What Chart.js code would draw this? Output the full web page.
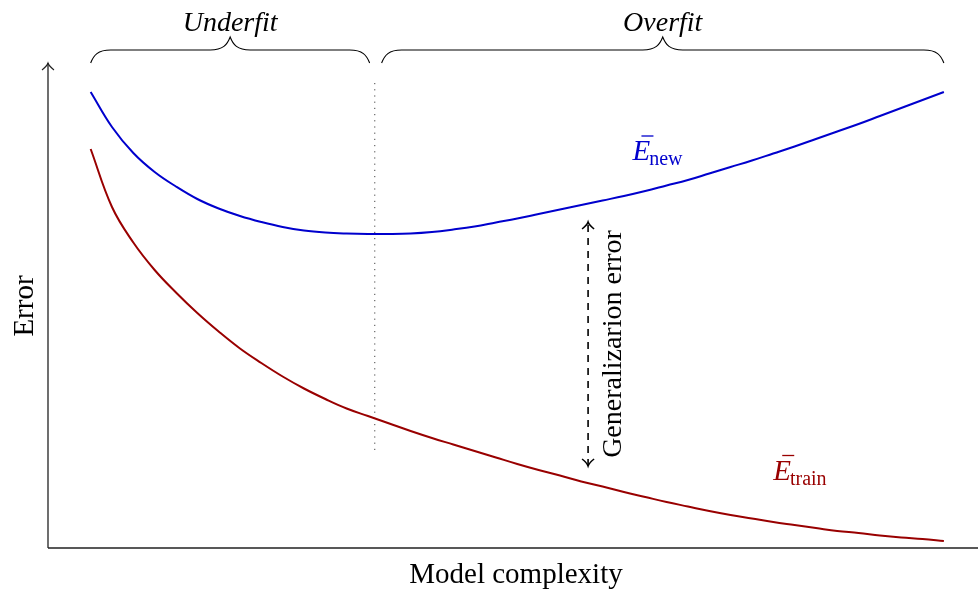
<!DOCTYPE html>
<html>
<head>
<meta charset="utf-8">
<script src="https://cdn.jsdelivr.net/npm/chart.js@4"></script>
<style>
  html, body { margin: 0; padding: 0; background: #fff; }
  #wrap { width: 978px; height: 592px; }
</style>
</head>
<body>
<div id="wrap"><canvas id="chart" width="978" height="592"></canvas></div>
<script>
// model complexity (x) and the two error curves
const complexity = [0, 0.25, 0.5, 0.75, 1, 1.25, 1.5, 1.75, 2, 2.25, 2.5, 2.75, 3, 3.25, 3.5, 3.75, 4, 4.25, 4.5, 4.75,
                    5, 5.25, 5.5, 5.75, 6, 6.25, 6.5, 6.75, 7, 7.25, 7.5, 7.75, 8, 8.25, 8.5, 8.75, 9, 9.25, 9.5, 9.75, 10];
const errNew = [9.12, 8.42, 7.90, 7.52, 7.23, 6.98, 6.79, 6.64, 6.52, 6.42, 6.35, 6.31, 6.29, 6.28, 6.28, 6.29, 6.32, 6.37, 6.43, 6.51,
                6.59, 6.68, 6.77, 6.86, 6.95, 7.04, 7.14, 7.25, 7.36, 7.49, 7.62, 7.75, 7.89, 8.03, 8.18, 8.33, 8.48, 8.64, 8.80, 8.96, 9.12];
const errTrain = [7.98, 6.82, 6.11, 5.56, 5.11, 4.70, 4.33, 3.99, 3.70, 3.43, 3.19, 2.98, 2.79, 2.64, 2.49, 2.34, 2.20, 2.07, 1.94, 1.81,
                  1.68, 1.56, 1.45, 1.33, 1.23, 1.12, 1.02, 0.92, 0.83, 0.74, 0.66, 0.59, 0.52, 0.46, 0.40, 0.34, 0.30, 0.25, 0.21, 0.18, 0.14];

// dotted split between the two regimes
const splitX = 3.33;
const splitY = [1.96, 9.4];

// the generalization gap arrow
const gapX = 5.83;
const gapY = [1.64, 6.52];
const gapLabel = 'Generalizarion error';

// braces along the top
const regionNames = ['Underfit', 'Overfit'];
const regionFrom = [0, 3.41];
const regionTo = [3.27, 10.0];

const xTitle = 'Model complexity';
const yTitle = 'Error';

const BLUE = 'rgb(0,0,205)';
const RED = 'rgb(153,0,0)';
const SERIF = '"Liberation Serif", "DejaVu Serif", serif';

function pts(xs, ys) {
    return xs.map((x, i) => ({ x: x, y: ys[i] }));
}

function drawBrace(ctx, x1, x2, yEnd, h) {
    const mid = (x1 + x2) / 2, a = 20;
    const yFlat = yEnd - h, yTip = yEnd - 2 * h;
    ctx.beginPath();
    ctx.moveTo(x1, yEnd);
    ctx.bezierCurveTo(x1 + 3, yEnd - h * 0.6, x1 + a * 0.35, yFlat, x1 + a, yFlat);
    ctx.lineTo(mid - a, yFlat);
    ctx.bezierCurveTo(mid - a * 0.35, yFlat, mid - 3, yFlat - h * 0.4, mid, yTip);
    ctx.bezierCurveTo(mid + 3, yFlat - h * 0.4, mid + a * 0.35, yFlat, mid + a, yFlat);
    ctx.lineTo(x2 - a, yFlat);
    ctx.bezierCurveTo(x2 - a * 0.35, yFlat, x2 - 3, yEnd - h * 0.6, x2, yEnd);
    ctx.stroke();
}

function chevron(ctx, x, y, dir) {
    // dir = -1 points up, 1 points down
    ctx.beginPath();
    ctx.moveTo(x - 6, y - dir * 7);
    ctx.quadraticCurveTo(x - 1, y - dir * 3, x, y);
    ctx.quadraticCurveTo(x + 1, y - dir * 3, x + 6, y - dir * 7);
    ctx.stroke();
}

const decorations = {
    id: 'decorations',
    afterDraw(chart) {
        const ctx = chart.ctx;
        const xs = chart.scales.x, ys = chart.scales.y;
        const area = chart.chartArea;
        ctx.save();

        // axes
        ctx.strokeStyle = '#222';
        ctx.lineWidth = 1.3;
        const yTop = ys.getPixelForValue(9.7);
        ctx.beginPath();
        ctx.moveTo(area.left, area.bottom);
        ctx.lineTo(area.right, area.bottom);
        ctx.moveTo(area.left, area.bottom);
        ctx.lineTo(area.left, yTop);
        ctx.stroke();
        ctx.lineWidth = 1.1;
        chevron(ctx, area.left, yTop, -1);

        // gap arrow heads
        ctx.lineWidth = 1.6;
        ctx.strokeStyle = '#000';
        const gx = xs.getPixelForValue(gapX);
        chevron(ctx, gx, ys.getPixelForValue(gapY[1]), -1);
        chevron(ctx, gx, ys.getPixelForValue(gapY[0]), 1);

        // braces + region labels
        ctx.lineWidth = 1.1;
        ctx.fillStyle = '#000';
        ctx.font = 'italic 28px ' + SERIF;
        ctx.textAlign = 'center';
        ctx.textBaseline = 'alphabetic';
        regionNames.forEach((name, i) => {
            const x1 = xs.getPixelForValue(regionFrom[i]);
            const x2 = xs.getPixelForValue(regionTo[i]);
            drawBrace(ctx, x1, x2, 63, 13);
            ctx.fillText(name, (x1 + x2) / 2, 31);
        });

        // axis titles
        ctx.font = '29px ' + SERIF;
        ctx.fillText(xTitle, (area.left + area.right) / 2 + 3, 583);
        ctx.save();
        ctx.translate(33, 306);
        ctx.rotate(-Math.PI / 2);
        ctx.fillText(yTitle, 0, 0);
        ctx.restore();

        // generalization error label
        ctx.font = '28px ' + SERIF;
        ctx.save();
        ctx.translate(gx + 33, (ys.getPixelForValue(gapY[0]) + ys.getPixelForValue(gapY[1])) / 2);
        ctx.rotate(-Math.PI / 2);
        ctx.fillText(gapLabel, 0, 0);
        ctx.restore();

        // curve labels E-bar with subscripts
        function ebar(label, color, xv, yv) {
            const px = xs.getPixelForValue(xv), py = ys.getPixelForValue(yv);
            ctx.fillStyle = color;
            ctx.strokeStyle = color;
            ctx.textAlign = 'left';
            ctx.font = 'italic 29px ' + SERIF;
            ctx.fillText('E', px, py);
            const w = ctx.measureText('E').width;
            ctx.lineWidth = 1.3;
            ctx.beginPath();
            ctx.moveTo(px + 9, py - 24);
            ctx.lineTo(px + 21, py - 24);
            ctx.stroke();
            ctx.font = '20px ' + SERIF;
            ctx.fillText(label, px + w - 1, py + 5);
        }
        ebar('new', BLUE, 6.35, 7.76);
        ebar('train', RED, 8.0, 1.37);

        ctx.restore();
    }
};

new Chart(document.getElementById('chart'), {
    type: 'scatter',
    data: {
        datasets: [
            {
                data: pts(complexity, errNew),
                showLine: true,
                borderColor: BLUE,
                borderWidth: 2,
                pointRadius: 0,
                tension: 0.4
            },
            {
                data: pts(complexity, errTrain),
                showLine: true,
                borderColor: RED,
                borderWidth: 2,
                pointRadius: 0,
                tension: 0.4
            },
            {
                data: pts([splitX, splitX], splitY),
                showLine: true,
                borderColor: '#444',
                borderWidth: 1,
                borderDash: [1.2, 5],
                pointRadius: 0
            },
            {
                data: pts([gapX, gapX], gapY),
                showLine: true,
                borderColor: '#000',
                borderWidth: 1.6,
                borderDash: [7, 6],
                pointRadius: 0
            }
        ]
    },
    options: {
        responsive: false,
        animation: false,
        layout: { padding: { left: 48, right: 0, top: 48, bottom: 44 } },
        plugins: {
            legend: { display: false },
            tooltip: { enabled: false }
        },
        scales: {
            x: { type: 'linear', min: -0.5, max: 10.4, display: false },
            y: { type: 'linear', min: 0, max: 10, display: false }
        }
    },
    plugins: [decorations]
});
</script>
</body>
</html>
